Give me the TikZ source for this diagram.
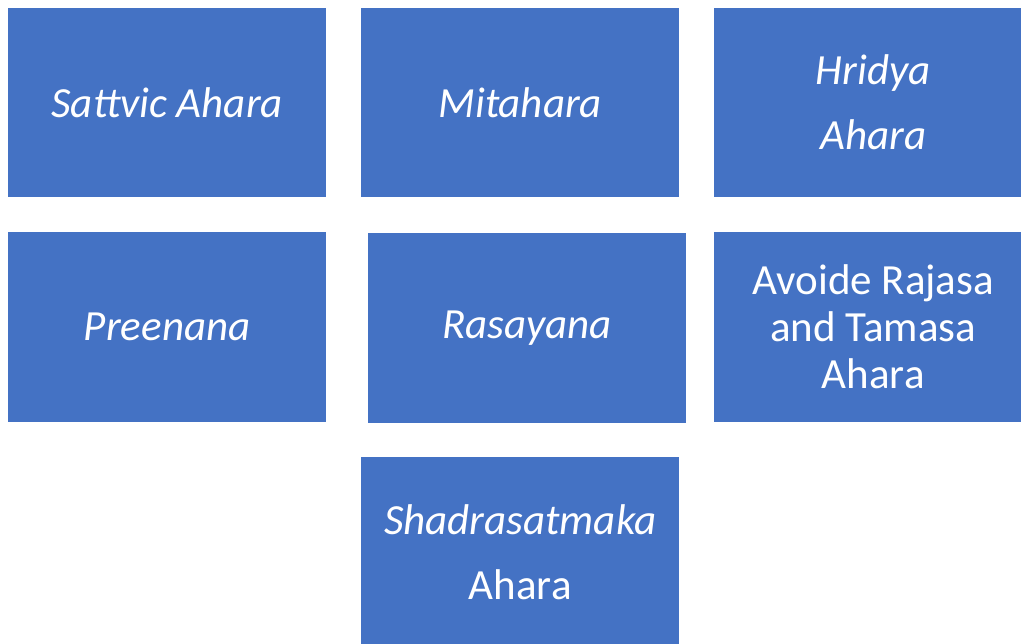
\documentclass[tikz,border=0pt]{standalone}
\usepackage{fontspec}
\setmainfont{Carlito}
\definecolor{boxblue}{HTML}{4472C4}
\tikzset{
  tile/.style={fill=boxblue, draw=none, inner sep=0pt, anchor=north west,
    text=white, align=center, minimum width=318pt,
    font=\fontsize{43}{47}\selectfont},
}
\begin{document}
\begin{tikzpicture}[x=1pt, y=-1pt]
  \useasboundingbox (0,0) rectangle (1021,644);
  \begin{scope}
  \clip (0,0) rectangle (1021,644);
  % first row
  \node[tile, minimum height=189pt] (sattvic) at (8,8) {\itshape Sattvic Ahara};
  \node[tile, minimum height=189pt] (mita) at (361,8) {\itshape Mitahara};
  \node[tile, minimum height=189pt] (hridya) at (714,8) {\itshape Hridya\\[18pt]\itshape Ahara};
  % second row
  \node[tile, minimum height=190pt] (preen) at (8,232) {\itshape Preenana};
  \node[tile, minimum height=190pt] (rasa) at (368,233) {\itshape Rasayana};
  \node[tile, minimum height=190pt] (avoid) at (714,232) {Avoide Rajasa\\and Tamasa\\Ahara};
  % third row
  \node[tile, minimum height=190pt] (shad) at (361,457) {\itshape Shadrasatmaka\\[18pt]Ahara};
  \end{scope}
\end{tikzpicture}
\end{document}
